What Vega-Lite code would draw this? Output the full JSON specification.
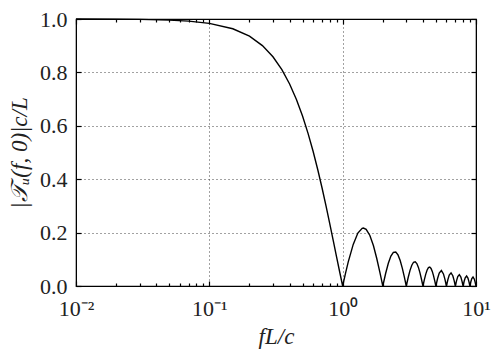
{
  "$schema": "https://vega.github.io/schema/vega-lite/v6.json",
  "autosize": "none",
  "width": 400,
  "height": 267,
  "padding": {"left": 76, "top": 19, "right": 23, "bottom": 70},
  "background": "white",
  "config": {
    "view": {"stroke": "black", "strokeWidth": 1.2},
    "font": "Liberation Serif",
    "axis": {"labelFont": "Liberation Serif", "titleFont": "Liberation Serif", "labelColor": "#222", "titleColor": "#222", "domainColor": "black", "tickColor": "black", "tickWidth": 1.2, "labelFlush": false, "labelBound": false, "labelOverlap": false}
  },
  "data": {"values": [
    {"x": 0.01, "y": 0.9998}, {"x": 0.02, "y": 0.9993}, {"x": 0.03, "y": 0.9985}, {"x": 0.05, "y": 0.9959}, {"x": 0.07, "y": 0.9919},
    {"x": 0.1, "y": 0.9836}, {"x": 0.15, "y": 0.9634}, {"x": 0.2, "y": 0.9355}, {"x": 0.25, "y": 0.9003}, {"x": 0.3, "y": 0.8584},
    {"x": 0.35, "y": 0.8103}, {"x": 0.4, "y": 0.7568}, {"x": 0.45, "y": 0.6986}, {"x": 0.5, "y": 0.6366}, {"x": 0.55, "y": 0.5716},
    {"x": 0.6, "y": 0.5046}, {"x": 0.65, "y": 0.4363}, {"x": 0.7, "y": 0.3679}, {"x": 0.75, "y": 0.3001}, {"x": 0.8, "y": 0.2339},
    {"x": 0.85, "y": 0.17}, {"x": 0.9, "y": 0.1093}, {"x": 0.95, "y": 0.0524}, {"x": 1.0, "y": 0},
    {"x": 1.05, "y": 0.0474}, {"x": 1.1, "y": 0.0894}, {"x": 1.2, "y": 0.1559}, {"x": 1.3, "y": 0.1981}, {"x": 1.4, "y": 0.2162},
    {"x": 1.43, "y": 0.2172}, {"x": 1.5, "y": 0.2122}, {"x": 1.6, "y": 0.1892}, {"x": 1.7, "y": 0.1515}, {"x": 1.8, "y": 0.1039},
    {"x": 1.9, "y": 0.0518}, {"x": 1.95, "y": 0.0255}, {"x": 2.0, "y": 0},
    {"x": 2.1, "y": 0.0468}, {"x": 2.2, "y": 0.085}, {"x": 2.3, "y": 0.112}, {"x": 2.4, "y": 0.1261}, {"x": 2.5, "y": 0.1273},
    {"x": 2.6, "y": 0.1164}, {"x": 2.7, "y": 0.0954}, {"x": 2.8, "y": 0.0668}, {"x": 2.9, "y": 0.0339}, {"x": 3.0, "y": 0},
    {"x": 3.1, "y": 0.0317}, {"x": 3.2, "y": 0.0585}, {"x": 3.3, "y": 0.078}, {"x": 3.4, "y": 0.089}, {"x": 3.5, "y": 0.0909},
    {"x": 3.6, "y": 0.0841}, {"x": 3.7, "y": 0.0696}, {"x": 3.8, "y": 0.0492}, {"x": 3.9, "y": 0.0252}, {"x": 4.0, "y": 0},
    {"x": 4.1, "y": 0.024}, {"x": 4.2, "y": 0.0445}, {"x": 4.3, "y": 0.0599}, {"x": 4.4, "y": 0.0688}, {"x": 4.5, "y": 0.0707},
    {"x": 4.6, "y": 0.0658}, {"x": 4.7, "y": 0.0548}, {"x": 4.8, "y": 0.039}, {"x": 4.9, "y": 0.0201}, {"x": 5.0, "y": 0},
    {"x": 5.15, "y": 0.0281}, {"x": 5.3, "y": 0.0486}, {"x": 5.5, "y": 0.0579}, {"x": 5.7, "y": 0.0452}, {"x": 5.85, "y": 0.0247}, {"x": 6.0, "y": 0},
    {"x": 6.15, "y": 0.0235}, {"x": 6.3, "y": 0.0409}, {"x": 6.5, "y": 0.049}, {"x": 6.7, "y": 0.0384}, {"x": 6.85, "y": 0.0211}, {"x": 7.0, "y": 0},
    {"x": 7.15, "y": 0.0202}, {"x": 7.3, "y": 0.0353}, {"x": 7.5, "y": 0.0424}, {"x": 7.7, "y": 0.0334}, {"x": 7.85, "y": 0.0184}, {"x": 8.0, "y": 0},
    {"x": 8.15, "y": 0.0177}, {"x": 8.3, "y": 0.031}, {"x": 8.5, "y": 0.0374}, {"x": 8.7, "y": 0.0296}, {"x": 8.85, "y": 0.0163}, {"x": 9.0, "y": 0},
    {"x": 9.15, "y": 0.0158}, {"x": 9.3, "y": 0.0277}, {"x": 9.5, "y": 0.0335}, {"x": 9.7, "y": 0.0265}, {"x": 9.85, "y": 0.0147}, {"x": 10.0, "y": 0}
  ]},
  "resolve": {"axis": {"x": "independent", "y": "independent"}},
  "layer": [
    {
      "mark": {"type": "line", "color": "black", "strokeWidth": 1.4},
      "encoding": {
        "x": {"field": "x", "type": "quantitative",
          "scale": {"type": "log", "domain": [0.01, 10], "nice": false},
          "axis": {"orient": "bottom", "values": [0.01, 0.1, 1, 10], "tickSize": -5, "labelPadding": 17, "labelFontSize": 22,
            "labelExpr": "datum.value < 0.05 ? '10⁻²' : datum.value < 0.5 ? '10⁻¹' : datum.value < 5 ? '10⁰' : '10¹'",
            "grid": true, "gridDash": [1, 3], "gridColor": "#444", "gridWidth": 1,
            "title": "fL/c", "titleFontSize": 23, "titleFontStyle": "italic", "titleFontWeight": "normal", "titlePadding": 6}},
        "y": {"field": "y", "type": "quantitative",
          "scale": {"domain": [0, 1], "nice": false, "zero": true},
          "axis": {"orient": "left", "values": [0, 0.2, 0.4, 0.6, 0.8, 1.0], "format": ".1f", "tickSize": -5, "labelPadding": 14, "labelFontSize": 22,
            "grid": true, "gridDash": [1, 3], "gridColor": "#444", "gridWidth": 1,
            "title": "|𝒯ᵤ(f, 0)|c/L", "titleFontSize": 23, "titleFontStyle": "italic", "titleFontWeight": "normal", "titlePadding": 8}}
      }
    },
    {
      "mark": {"type": "point", "opacity": 0},
      "encoding": {
        "x": {"field": "x", "type": "quantitative", "scale": {"type": "log", "domain": [0.01, 10], "nice": false},
          "axis": {"orient": "top", "values": [0.01, 0.1, 1, 10], "tickSize": -5, "labels": false, "grid": false, "title": null}},
        "y": {"field": "y", "type": "quantitative", "scale": {"domain": [0, 1], "nice": false},
          "axis": {"orient": "right", "values": [0, 0.2, 0.4, 0.6, 0.8, 1.0], "tickSize": -5, "labels": false, "grid": false, "title": null}}
      }
    },
    {
      "mark": {"type": "point", "opacity": 0},
      "encoding": {
        "x": {"field": "x", "type": "quantitative", "scale": {"type": "log", "domain": [0.01, 10], "nice": false},
          "axis": {"orient": "bottom", "values": [0.02, 0.03, 0.04, 0.05, 0.06, 0.07, 0.08, 0.09, 0.2, 0.3, 0.4, 0.5, 0.6, 0.7, 0.8, 0.9, 2, 3, 4, 5, 6, 7, 8, 9],
            "tickSize": -3, "labels": false, "domain": false, "grid": false, "title": null}}
      }
    },
    {
      "mark": {"type": "point", "opacity": 0},
      "encoding": {
        "x": {"field": "x", "type": "quantitative", "scale": {"type": "log", "domain": [0.01, 10], "nice": false},
          "axis": {"orient": "top", "values": [0.02, 0.03, 0.04, 0.05, 0.06, 0.07, 0.08, 0.09, 0.2, 0.3, 0.4, 0.5, 0.6, 0.7, 0.8, 0.9, 2, 3, 4, 5, 6, 7, 8, 9],
            "tickSize": -3, "labels": false, "domain": false, "grid": false, "title": null}}
      }
    }
  ]
}
